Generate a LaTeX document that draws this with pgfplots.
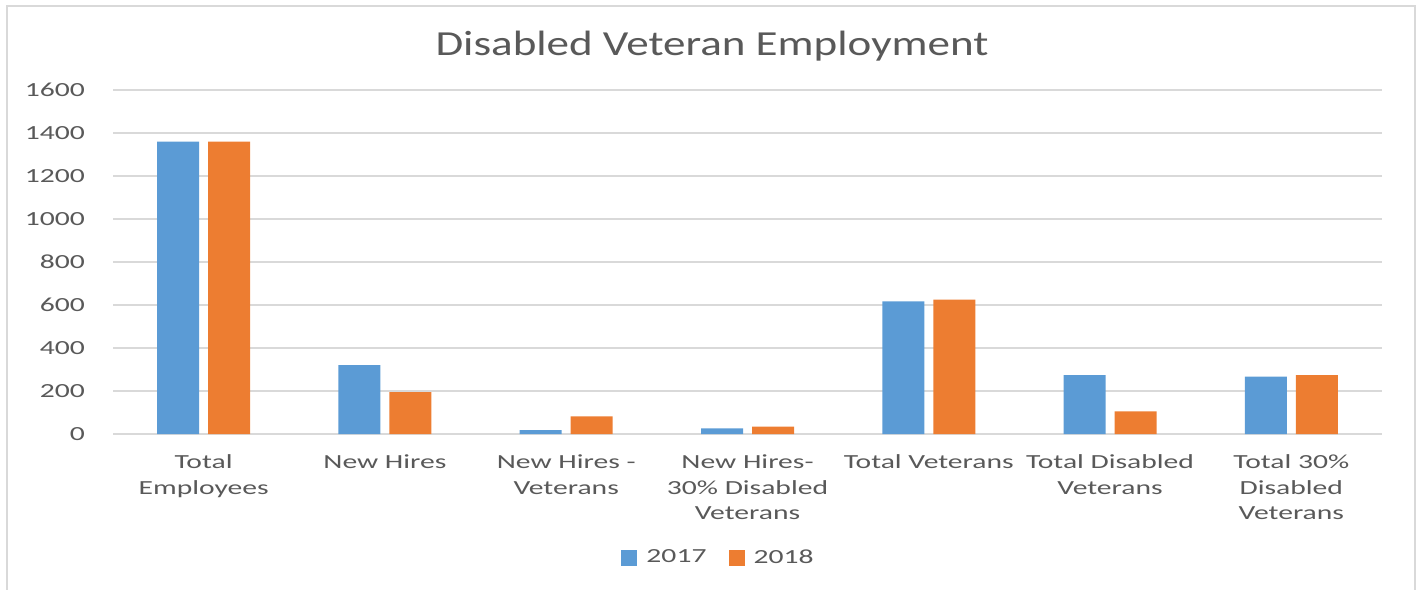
\documentclass[border=0pt]{standalone}
\usepackage{fontspec}
\setmainfont{Carlito}[FakeStretch=1.48]
\newfontfamily\titlefont{Carlito}[FakeStretch=1.28]
\usepackage{pgfplots}
\pgfplotsset{compat=1.18}

\definecolor{barblue}{HTML}{5B9BD5}
\definecolor{barorange}{HTML}{ED7D31}
\definecolor{gridgray}{HTML}{D9D9D9}
\definecolor{textgray}{HTML}{595959}

\begin{document}
\begin{tikzpicture}
\useasboundingbox (0pt,0pt) rectangle (711pt,294.5pt);
\draw[gridgray, line width=0.8pt] (3.5pt,-2pt) -- (3.5pt,291.5pt) -- (707.5pt,291.5pt) -- (707.5pt,-2pt);

\node[text=textgray, font=\titlefont\fontsize{17.6}{20}\selectfont] at (356pt,271.5pt) {Disabled Veteran Employment};

\begin{axis}[
    at={(56.5pt,77.5pt)}, anchor=south west,
    scale only axis,
    width=634.5pt, height=172pt,
    ybar, bar width=21pt, ybar=4.5pt,
    xmin=-0.5, xmax=6.5,
    ymin=0, ymax=1600,
    ytick={0,200,...,1600},
    xtick=data,
    xticklabels={{Total\\Employees},{New Hires},{New Hires -\\Veterans},{New Hires-\\30\% Disabled\\Veterans},{Total Veterans},{Total Disabled\\Veterans},{Total 30\%\\Disabled\\Veterans}},
    xticklabel style={align=center, text=textgray, font=\fontsize{10}{12.75}\selectfont, yshift=-7pt},
    yticklabel style={text=textgray, font=\fontsize{10}{12}\selectfont, xshift=-10.5pt},
    /pgf/number format/assume math mode=true,
    /pgf/number format/1000 sep={},
    major tick length=0pt,
    axis line style={draw=none},
    ymajorgrids, grid style={gridgray, line width=0.8pt},
    legend style={at={(0.5,0)}, anchor=center, xshift=-14pt, yshift=-62pt, draw=none, fill=none,
        legend columns=2, font=\fontsize{10}{12}\selectfont, text=textgray,
        /tikz/every even column/.append style={column sep=9pt}},
    legend image code/.code={\fill[#1] (0pt,-4pt) rectangle (8pt,4pt); \path (10.5pt,0pt);},
]
\addplot[fill=barblue, draw=none] coordinates {
    (0,1360) (1,320) (2,18) (3,26) (4,617) (5,274) (6,267)
};
\addplot[fill=barorange, draw=none] coordinates {
    (0,1360) (1,195) (2,82) (3,34) (4,625) (5,105) (6,274)
};
\legend{2017,2018}
\end{axis}
\end{tikzpicture}
\end{document}
